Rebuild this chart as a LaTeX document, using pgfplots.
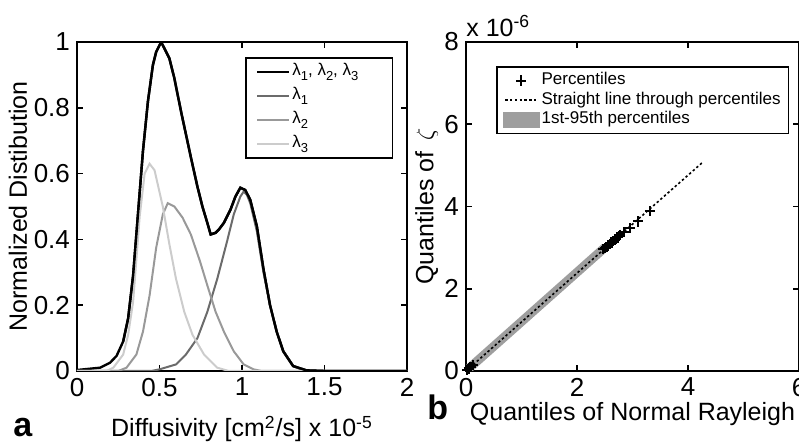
\documentclass[border=0pt]{standalone}
\usepackage{fontspec}
\setmainfont{Liberation Sans}
\usepackage{pgfplots}
\pgfplotsset{compat=1.18}

\newcommand\lsub[1]{\raisebox{-0.6ex}{\fontsize{6.5}{7}\selectfont #1}}
\definecolor{lamone}{gray}{0.42}
\definecolor{lamtwo}{gray}{0.6}
\definecolor{lamthree}{gray}{0.8}
\definecolor{bandgray}{gray}{0.62}

\pgfplotsset{
  panel/.style={
    scale only axis, height=164.5pt,
    axis line style={line width=1.1pt},
    tick style={black, line width=0.8pt},
    major tick length=3pt,
    tick label style={font=\fontsize{13}{15}\selectfont},
    /pgf/number format/assume math mode=true,
    label style={font=\fontsize{12.5}{15}\selectfont},
  },
  lineleg/.style={legend image code/.code={\draw[##1] (0pt,0pt) -- (16pt,0pt);}},
  markleg/.style={legend image code/.code={\path[draw=none] (0pt,0pt) -- (16pt,0pt);
      \draw[##1] plot coordinates {(8pt,0pt)};}},
  bandleg/.style={legend image code/.code={\path[draw=none] (0pt,0pt) -- (16pt,0pt);
      \fill[bandgray] (1pt,-1.6pt) rectangle (15pt,1.6pt);}},
}

\begin{document}
\begin{tikzpicture}
% panel a: distributions
\begin{axis}[panel, name=pa, at={(0pt,0pt)}, anchor=south west, width=165pt,
  xmin=0, xmax=2, ymin=0, ymax=1,
  xtick={0,0.5,1,1.5,2}, ytick={0,0.2,0.4,0.6,0.8,1},
  xlabel={Diffusivity [cm\textsuperscript{2}/s] x 10\textsuperscript{-5}},
  ylabel={Normalized Distibution},
  xlabel style={at={(axis description cs:0.5,-0.2)}, anchor=base},
  ylabel style={at={(axis description cs:-0.179,0.5)}, anchor=center},
  lineleg,
  legend style={at={(axis description cs:0.958,0.954)}, anchor=north east,
    draw=black, line width=0.8pt, font=\fontsize{8.5}{10}\selectfont,
    inner xsep=5pt, inner ysep=1pt, legend cell align=left,
    nodes={inner sep=1pt, text height=6.8pt, text depth=3.2pt}},
]
\addplot[black, line width=1.2pt] coordinates {
 (0,0.003) (0.14,0.01) (0.2,0.025) (0.24,0.046) (0.28,0.09) (0.31,0.16)
 (0.34,0.29) (0.37,0.48) (0.40,0.67) (0.43,0.82) (0.46,0.93) (0.48,0.97)
 (0.51,1.0) (0.53,0.98) (0.56,0.95) (0.59,0.89) (0.63,0.79) (0.66,0.72)
 (0.69,0.65) (0.73,0.56) (0.76,0.50) (0.79,0.45) (0.81,0.415) (0.84,0.42)
 (0.86,0.43) (0.89,0.45) (0.93,0.49) (0.96,0.53) (0.99,0.557) (1.02,0.55)
 (1.05,0.52) (1.09,0.44) (1.13,0.31) (1.17,0.20) (1.21,0.12) (1.25,0.06)
 (1.31,0.015) (1.39,0.002) (1.5,0) (2,0)};
\addlegendentry{\makebox[44pt][l]{λ\lsub{1}, λ\lsub{2}, λ\lsub{3}}}
\addplot[lamone, line width=1pt] coordinates {
 (0,0) (0.45,0) (0.5,0.005) (0.60,0.02) (0.66,0.05) (0.73,0.10) (0.79,0.18)
 (0.85,0.28) (0.91,0.395) (0.95,0.476) (0.99,0.53) (1.01,0.545) (1.03,0.535)
 (1.05,0.51) (1.09,0.425) (1.13,0.30) (1.17,0.20) (1.21,0.12) (1.25,0.06)
 (1.31,0.015) (1.37,0.002) (1.45,0) (2,0)};
\addlegendentry{λ\lsub{1}}
\addplot[lamtwo, line width=1pt] coordinates {
 (0,0) (0.25,0) (0.30,0.01) (0.36,0.05) (0.40,0.12) (0.44,0.23) (0.48,0.375)
 (0.52,0.476) (0.55,0.51) (0.59,0.50) (0.64,0.466) (0.69,0.415) (0.745,0.334)
 (0.79,0.26) (0.84,0.18) (0.89,0.12) (0.95,0.06) (1.01,0.02) (1.07,0.005)
 (1.12,0) (2,0)};
\addlegendentry{λ\lsub{2}}
\addplot[lamthree, line width=1pt] coordinates {
 (0,0) (0.18,0) (0.22,0.01) (0.28,0.05) (0.31,0.11) (0.34,0.21) (0.38,0.47)
 (0.41,0.60) (0.44,0.63) (0.47,0.61) (0.52,0.50) (0.56,0.385) (0.60,0.28)
 (0.65,0.18) (0.70,0.11) (0.77,0.05) (0.85,0.01) (0.92,0) (2,0)};
\addlegendentry{λ\lsub{3}}
% redraw the sum on top
\addplot[black, line width=1.2pt, forget plot] coordinates {
 (0.28,0.09) (0.31,0.16) (0.34,0.29) (0.37,0.48) (0.40,0.67) (0.43,0.82)
 (0.46,0.93) (0.48,0.97) (0.51,1.0) (0.53,0.98) (0.56,0.95) (0.59,0.89)
 (0.63,0.79) (0.66,0.72) (0.69,0.65) (0.73,0.56) (0.76,0.50) (0.79,0.45)
 (0.81,0.415) (0.84,0.42) (0.86,0.43) (0.89,0.45) (0.93,0.49) (0.96,0.53)
 (0.99,0.557) (1.02,0.55) (1.05,0.52) (1.09,0.44) (1.13,0.31) (1.17,0.20)
 (1.21,0.12) (1.25,0.06) (1.31,0.015) (1.39,0.002) (1.5,0) (2,0)};
\end{axis}

% panel b: QQ plot
\begin{axis}[panel, name=pb, at={(194.5pt,0pt)}, anchor=south west, width=166.5pt,
  xmin=0, xmax=6, ymin=0, ymax=8,
  xtick={0,2,4,6}, ytick={0,2,4,6,8},
  xlabel={Quantiles of Normal Rayleigh},
  ylabel={Quantiles of \,$\zeta$},
  xlabel style={at={(axis description cs:0.5,-0.149)}, anchor=base},
  ylabel style={at={(axis description cs:-0.118,0.5)}, anchor=center},
  reverse legend,
  legend style={at={(axis description cs:0.09,0.927)}, anchor=north west,
    draw=black, line width=0.8pt, font=\fontsize{8.5}{10}\selectfont,
    inner xsep=3pt, inner ysep=2pt, legend cell align=left,
    nodes={inner sep=0.9pt, text height=6pt, text depth=2pt}},
]
\addplot[bandgray, line width=4.5pt, line cap=butt, bandleg]
  coordinates {(0,0) (2.5,3.0)};
\addlegendentry{1st-95th percentiles}
\addplot[black, line width=0.8pt, dash pattern=on 1.2pt off 1.2pt, lineleg]
  coordinates {(0,0) (4.26,5.07)};
\addlegendentry{Straight line through percentiles}
\addplot[only marks, black, mark=+, mark size=2.6pt, line width=1.1pt, markleg]
  coordinates {
  (0.02,0.02) (0.05,0.06) (0.08,0.10) (0.12,0.14)
  (2.47,2.96) (2.50,2.99) (2.53,3.02) (2.56,3.05) (2.59,3.09) (2.62,3.12)
  (2.65,3.16) (2.69,3.20) (2.73,3.25) (2.78,3.31) (2.84,3.38) (2.95,3.47)
  (3.10,3.64) (3.31,3.89)};
\addlegendentry{Percentiles}
\end{axis}

\node[anchor=base west, font=\fontsize{12.5}{14}\selectfont, inner sep=0pt]
  at ([yshift=3pt]pb.north west) {x 10\textsuperscript{-6}};
\node[anchor=base west, font=\bfseries\fontsize{17}{20}\selectfont, inner sep=0pt]
  at ([xshift=-32pt,yshift=-33pt]pa.south west) {a};
\node[anchor=base west, font=\bfseries\fontsize{17}{20}\selectfont, inner sep=0pt]
  at ([xshift=-19.5pt,yshift=-24.5pt]pb.south west) {b};

\pgfresetboundingbox
\path ([xshift=-38.5pt,yshift=-36pt]pa.south west)
  rectangle ([xshift=361pt,yshift=185.5pt]pa.south west);
\end{tikzpicture}
\end{document}
